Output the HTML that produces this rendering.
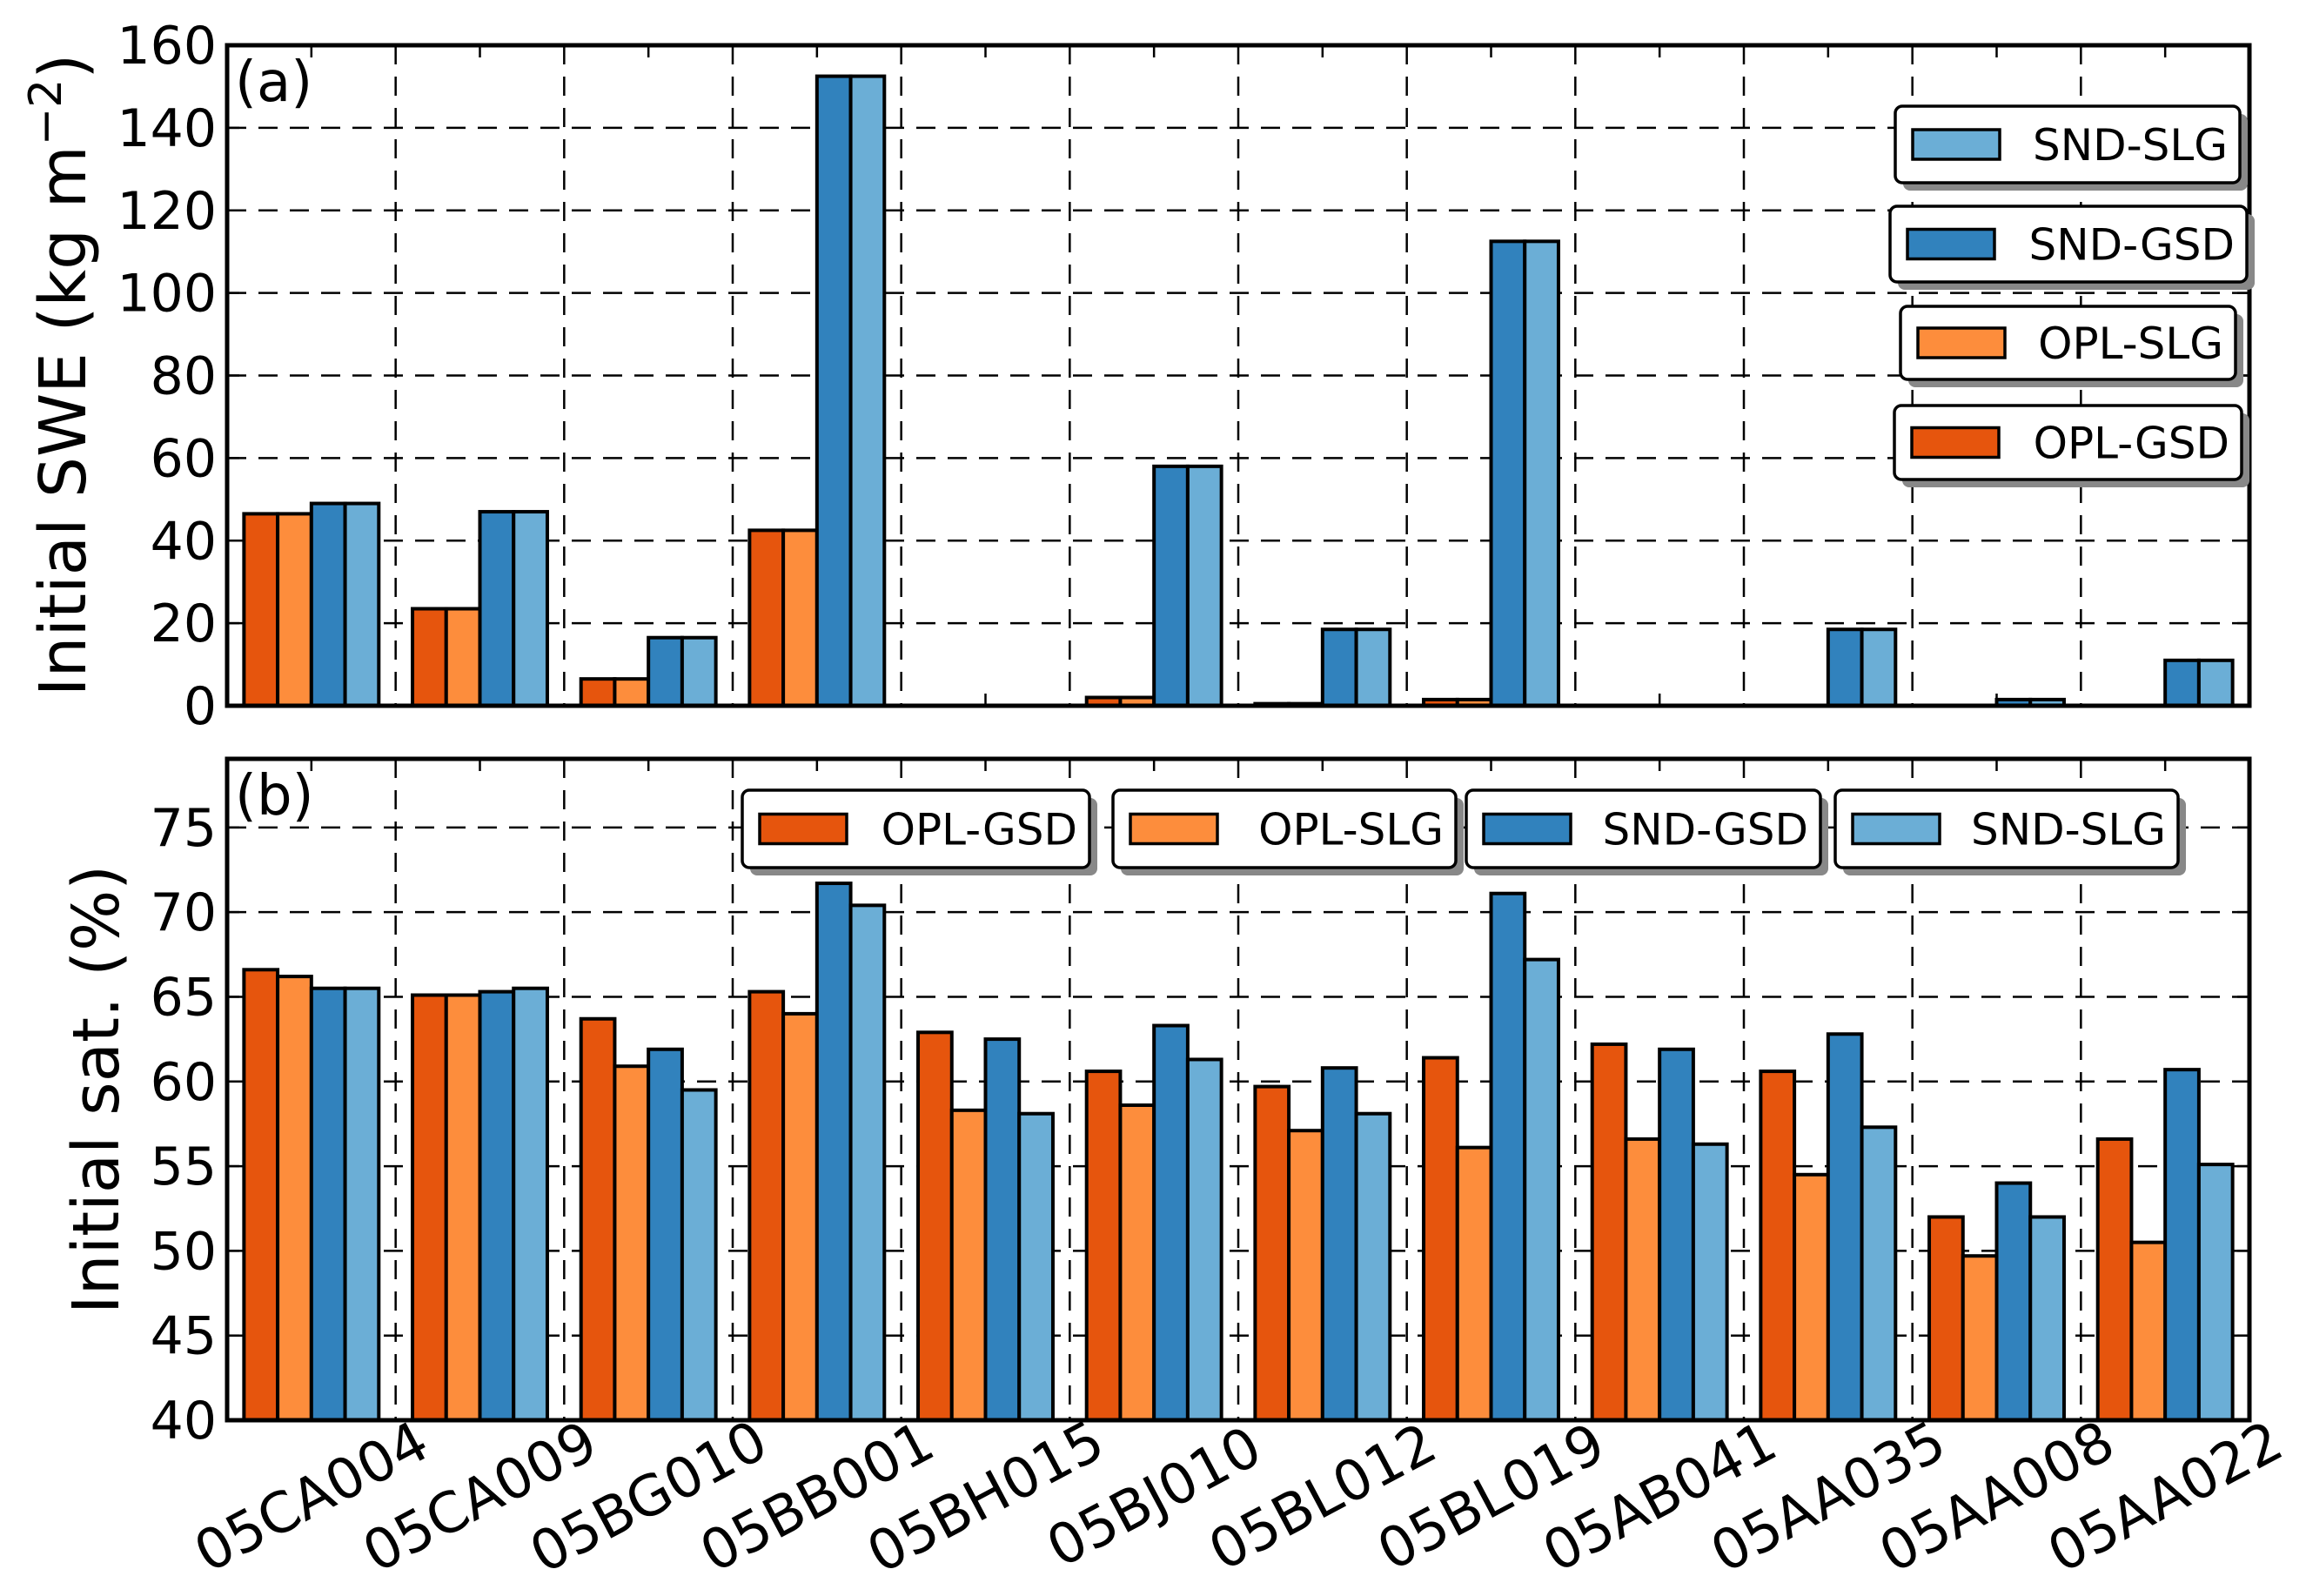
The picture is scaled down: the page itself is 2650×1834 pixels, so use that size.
<!DOCTYPE html>
<html><head><meta charset="utf-8"><style>
html,body{margin:0;padding:0;background:#fff;}
svg{display:block;font-family:"DejaVu Sans","Liberation Sans",sans-serif;}
</style></head><body>
<svg id="c" width="2650" height="1834" viewBox="0 0 2650 1834"></svg>
<script>
const categories=["05CA004","05CA009","05BG010","05BB001","05BH015","05BJ010","05BL012","05BL019","05AB041","05AA035","05AA008","05AA022"];
const seriesNames=["OPL-GSD","OPL-SLG","SND-GSD","SND-SLG"];
const colors=["#e6550d","#fd8d3c","#3182bd","#6baed6"];
const sweOplGsd=[46.5,23.5,6.5,42.5,0,2,0.5,1.5,0,0,0,0];
const sweOplSlg=[46.5,23.5,6.5,42.5,0,2,0.5,1.5,0,0,0,0];
const sweSndGsd=[49,47,16.5,152.5,0,58,18.5,112.5,0,18.5,1.5,11];
const sweSndSlg=[49,47,16.5,152.5,0,58,18.5,112.5,0,18.5,1.5,11];
const satOplGsd=[66.6,65.1,63.7,65.3,62.9,60.6,59.7,61.4,62.2,60.6,52.0,56.6];
const satOplSlg=[66.2,65.1,60.9,64.0,58.3,58.6,57.1,56.1,56.6,54.5,49.7,50.5];
const satSndGsd=[65.5,65.3,61.9,71.7,62.5,63.3,60.8,71.1,61.9,62.8,54.0,60.7];
const satSndSlg=[65.5,65.5,59.5,70.4,58.1,61.3,58.1,67.2,56.3,57.3,52.0,55.1];
const sweTicks=[0,20,40,60,80,100,120,140,160];
const satTicks=[40,45,50,55,60,65,70,75];

const NS="http://www.w3.org/2000/svg";
const svg=document.getElementById('c');
function mk(tag,attrs,parent){const e=document.createElementNS(NS,tag);for(const k in attrs)e.setAttribute(k,attrs[k]);(parent||svg).appendChild(e);return e;}

const X0=261,X1=2585,W=(X1-X0)/categories.length;
function xGroup(i){return X0+i*W;}

function panel(name,top,bottom,ymin,ymax,ticks,series,letter){
  const g=mk('g',{});
  
  
  const y=v=>bottom-(v-ymin)/(ymax-ymin)*(bottom-top);
  ticks.forEach(t=>{
    if(t===ymin)return;
    const l=mk('line',{x1:X0,x2:X1,y1:y(t),y2:y(t),stroke:'#000','stroke-width':2.5,'stroke-dasharray':'22,14'},g);
    
    
  });
  for(let i=1;i<categories.length;i++){
    const l=mk('line',{x1:xGroup(i),x2:xGroup(i),y1:top,y2:bottom,stroke:'#000','stroke-width':2.5,'stroke-dasharray':'22,14'},g);
    
    
  }
  categories.forEach((c,i)=>{
    series.forEach((s,j)=>{
      const v=s[i];
      const bx=xGroup(i)+0.1*W+j*0.2*W;
      const yt=y(Math.max(v,ymin));
      const r=mk('rect',{x:bx,y:yt,width:0.2*W,height:Math.max(0,bottom-yt),fill:colors[j],stroke:'#000','stroke-width':4},g);
      
      
    });
  });
  categories.forEach((c,i)=>{
    const cx=xGroup(i)+W/2;
    mk('line',{x1:cx,x2:cx,y1:top,y2:top+14,stroke:'#000','stroke-width':2.5},g);
    mk('line',{x1:cx,x2:cx,y1:bottom,y2:bottom-14,stroke:'#000','stroke-width':2.5},g);
  });
  ticks.forEach(t=>{
    mk('line',{x1:X0,x2:X0+14,y1:y(t),y2:y(t),stroke:'#000','stroke-width':2.5},g);
    mk('line',{x1:X1,x2:X1-14,y1:y(t),y2:y(t),stroke:'#000','stroke-width':2.5},g);
    const tx=mk('text',{x:X0-12,y:y(t)+21,'text-anchor':'end','font-size':60},g);
    tx.textContent=t;
    
    
  });
  const fr=mk('rect',{x:X0,y:top,width:X1-X0,height:bottom-top,fill:'none',stroke:'#000','stroke-width':5},g);
  
  
  const lt=mk('text',{x:X0+9,y:top+64,'font-size':64},g);
  lt.textContent=letter;
  
  
  return y;
}
panel('panel-a-swe',52,811,0,160,sweTicks,[sweOplGsd,sweOplSlg,sweSndGsd,sweSndSlg],'(a)');
panel('panel-b-sat',872,1632,40,79.05,satTicks,[satOplGsd,satOplSlg,satSndGsd,satSndSlg],'(b)');

categories.forEach((c,i)=>{
  const cx=xGroup(i)+W/2;
  const t=mk('text',{x:0,y:0,'text-anchor':'middle','font-size':64,transform:`translate(${cx},${1720}) rotate(-28) translate(0,22)`});
  t.textContent=c;
  
  
});

let yt=mk('text',{x:0,y:0,'text-anchor':'middle','font-size':74,transform:'translate(98,431) rotate(-90)'});
yt.innerHTML='Initial SWE (kg m<tspan dy="-28" font-size="52">−2</tspan><tspan dy="28">)</tspan>';


yt=mk('text',{x:0,y:0,'text-anchor':'middle','font-size':74,transform:'translate(136,1252) rotate(-90)'});
yt.textContent='Initial sat. (%)';



function legend(x,y,w,h,j){
  const g=mk('g',{});
  
  
  mk('rect',{x:x+9,y:y+9,width:w,height:h,rx:8,fill:'#888'},g);
  mk('rect',{x:x,y:y,width:w,height:h,rx:8,fill:'#fff',stroke:'#000','stroke-width':3.5},g);
  mk('rect',{x:x+20,y:y+h/2-17,width:100,height:34,fill:colors[j],stroke:'#000','stroke-width':3.5},g);
  const t=mk('text',{x:x+w-14,y:y+h/2+18,'text-anchor':'end','font-size':50},g);
  t.textContent=seriesNames[j];
}
legend(2178,122,396,88,3);
legend(2172,237,410,87,2);
legend(2184,352,385,84,1);
legend(2177,466,399,85,0);
legend(853,908,399,89,0);
legend(1279,908,394,89,1);
legend(1685,908,407,89,2);
legend(2109,908,394,89,3);
</script>
</body></html>
